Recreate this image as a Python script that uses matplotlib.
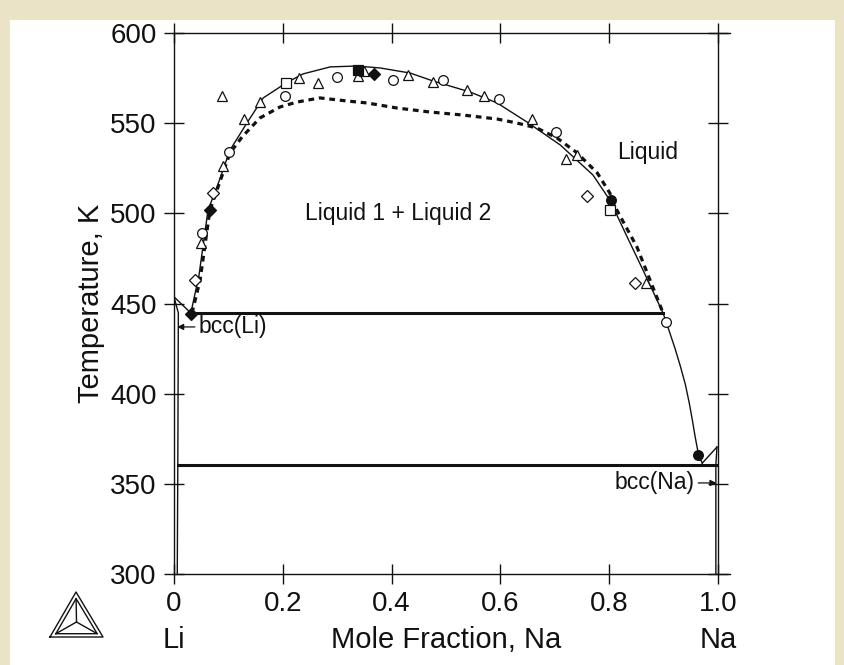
#Li-Na phase diagram, temperature vs mole fraction Na, with experimental points
import numpy as np
import matplotlib.pyplot as plt
from matplotlib.patches import Rectangle

#=====================Data===============
# calculated liquidus / miscibility gap (solid line)
solid_x = [0.031, 0.046, 0.0625, 0.079, 0.103, 0.134, 0.164, 0.206, 0.237, 0.287, 0.336, 0.379, 0.434,
           0.476, 0.544, 0.594, 0.649, 0.71, 0.77, 0.801, 0.833, 0.862, 0.899, 0.910, 0.921, 0.931,
           0.940, 0.947, 0.953, 0.958, 0.963, 0.967, 0.971]
solid_T = [444.7, 465.8, 501.8, 514.6, 535.1, 550.1, 564.0, 572.3, 577.3, 581.2, 581.7, 580.6, 577.8,
           573.4, 567.3, 561.2, 550.6, 537.9, 521.3, 507.4, 486.9, 468.6, 444.7, 435.0, 425.0, 415.0,
           405.0, 395.0, 385.0, 376.0, 368.0, 364.0, 361.5]
# second assessment (thick dotted)
dot_x = [0.033, 0.048, 0.066, 0.103, 0.125, 0.158, 0.195, 0.226, 0.268, 0.318, 0.355, 0.41, 0.47, 0.531,
         0.594, 0.63, 0.667, 0.704, 0.741, 0.778, 0.801, 0.814, 0.851, 0.875, 0.899]
dot_T = [444.7, 463.0, 501.8, 533.5, 542.3, 552.9, 559.0, 561.7, 564.0, 562.3, 561.2, 558.4, 556.2, 554.5,
         552.3, 550.1, 547.3, 541.8, 533.5, 522.4, 511.3, 501.8, 481.3, 463.0, 444.7]
# invariant lines
monotectic_x = [0.031, 0.899]
monotectic_T = [444.7, 444.7]
eutectic_x = [0.007, 0.996]
eutectic_T = [360.5, 360.5]
# terminal solid solutions
li_liq_x = [0.0, 0.031]
li_liq_T = [453.7, 444.7]
li_sol_x = [0.0, 0.008, 0.007, 0.006]
li_sol_T = [453.7, 444.7, 360.5, 300.0]
na_liq_x = [0.998, 0.971]
na_liq_T = [370.4, 361.5]
na_sol_x = [0.998, 0.996, 0.996]
na_sol_T = [370.4, 360.5, 300.0]

# experimental points
tri_x = [0.088, 0.158, 0.129, 0.09, 0.23, 0.265, 0.338, 0.349, 0.43, 0.476, 0.539, 0.57, 0.658, 0.72, 0.741, 0.868, 0.05]
tri_T = [565.0, 562.0, 552.3, 526.0, 575.0, 572.3, 576.0, 579.0, 576.7, 572.8, 568.4, 565.0, 552.3, 530.0, 532.3, 461.4, 483.5]
circ_x = [0.101, 0.204, 0.3, 0.403, 0.494, 0.597, 0.702, 0.904, 0.051]
circ_T = [534.0, 565.0, 575.6, 574.0, 574.0, 563.4, 545.0, 439.7, 489.0]
dia_x = [0.072, 0.039, 0.759, 0.847]
dia_T = [511.3, 463.0, 509.6, 461.4]
fdia_x = [0.368, 0.031, 0.066]
fdia_T = [577.3, 444.2, 502.0]
fsq_x = [0.338]
fsq_T = [579.5]
sq_x = [0.206, 0.801]
sq_T = [572.3, 502.0]
fcirc_x = [0.803, 0.963]
fcirc_T = [507.5, 366.0]

xticks = [0, 0.2, 0.4, 0.6, 0.8, 1.0]
xticklabels = ['0', '0.2', '0.4', '0.6', '0.8', '1.0']
yticks = [300, 350, 400, 450, 500, 550, 600]

#====================Plot=======================
plt.rcParams['font.family'] = ['Liberation Sans', 'DejaVu Sans']
tc = '#111111'

fig = plt.figure(figsize=(8.45, 6.65), dpi=100)
fig.patch.set_facecolor('#ebe3c6')
fig.patches.append(Rectangle((10/845, 0), 825/845, 645/665, transform=fig.transFigure,
                             facecolor='white', edgecolor='none', zorder=-10))

ax = fig.add_axes([174/845, 91/665, 556/845, 541/665])
ax.set_facecolor('none')

ax.plot(solid_x, solid_T, color=tc, linewidth=1.0)
ax.plot(dot_x, dot_T, color=tc, linewidth=2.3, linestyle=(0, (1.8, 1.5)))
ax.plot(monotectic_x, monotectic_T, color=tc, linewidth=2.2)
ax.plot(eutectic_x, eutectic_T, color=tc, linewidth=2.2)
for xx, tt in [(li_liq_x, li_liq_T), (li_sol_x, li_sol_T), (na_liq_x, na_liq_T), (na_sol_x, na_sol_T)]:
    ax.plot(xx, tt, color=tc, linewidth=1.0)

mk = dict(linestyle='none', color=tc, markeredgewidth=0.9, zorder=5)
ax.plot(tri_x, tri_T, marker='^', markersize=7, markerfacecolor='white', **mk)
ax.plot(circ_x, circ_T, marker='o', markersize=7, markerfacecolor='white', **mk)
ax.plot(dia_x, dia_T, marker='D', markersize=6, markerfacecolor='white', **mk)
ax.plot(fdia_x, fdia_T, marker='D', markersize=6, markerfacecolor=tc, **mk)
ax.plot(fsq_x, fsq_T, marker='s', markersize=7, markerfacecolor=tc, **mk)
ax.plot(sq_x, sq_T, marker='s', markersize=7, markerfacecolor='white', **mk)
ax.plot(fcirc_x, fcirc_T, marker='o', markersize=7, markerfacecolor=tc, **mk)

ax.set_xlim(0, 1.022)
ax.set_ylim(300, 600)
ax.spines['right'].set_position(('data', 1.0))
for s in ax.spines.values():
    s.set_linewidth(1.0)
    s.set_color(tc)
ax.set_xticks(xticks)
ax.set_xticklabels(xticklabels)
ax.set_yticks(yticks)
ax.tick_params(direction='inout', length=15, width=1.0, colors=tc, labelsize=20,
               top=True, right=True, pad=5)

ax.set_ylabel('Temperature, K', fontsize=21, color=tc)
ax.yaxis.label.set_va('center')
ax.yaxis.set_label_coords(-0.15, 0.5)
ax.set_xlabel('Mole Fraction, Na', fontsize=21, color=tc)
ax.xaxis.label.set_va('center')
ax.xaxis.set_label_coords(0.489, -0.122)
ax.text(0.0, -0.122, 'Li', transform=ax.get_xaxis_transform(), ha='center', va='center', fontsize=21, color=tc)
ax.text(1.0, -0.122, 'Na', transform=ax.get_xaxis_transform(), ha='center', va='center', fontsize=21, color=tc)

ax.text(0.871, 534, 'Liquid', fontsize=16.5, ha='center', va='center', color=tc)
ax.text(0.412, 500, 'Liquid 1 + Liquid 2', fontsize=16.5, ha='center', va='center', color=tc)
ax.annotate('bcc(Li)', xy=(0.006, 437), xytext=(0.046, 437), fontsize=16.5, ha='left', va='center', color=tc,
            arrowprops=dict(arrowstyle='-|>', color=tc, lw=0.9, mutation_scale=9, shrinkA=1, shrinkB=0))
ax.annotate('bcc(Na)', xy=(0.997, 350.5), xytext=(0.956, 350.5), fontsize=16.5, ha='right', va='center', color=tc,
            arrowprops=dict(arrowstyle='-|>', color=tc, lw=0.9, mutation_scale=9, shrinkA=1, shrinkB=0))

# logo in the lower left corner
lg = fig.add_axes([45/845, (665-642)/665, 64/845, 55/665])
lg.set_xlim(0, 64)
lg.set_ylim(0, 55)
lg.axis('off')
outer = np.array([[5, 5], [31, 50], [58, 5], [5, 5]])
cen = np.array([31.5, 20])
inner = cen + (outer - cen) * 0.78
lg.plot(outer[:, 0], outer[:, 1], color=tc, lw=1.0)
lg.plot(inner[:, 0], inner[:, 1], color=tc, lw=1.0)
for p in inner[:3]:
    lg.plot([cen[0], p[0]], [cen[1], p[1]], color=tc, lw=1.0)

plt.savefig('out.png', dpi=100)
